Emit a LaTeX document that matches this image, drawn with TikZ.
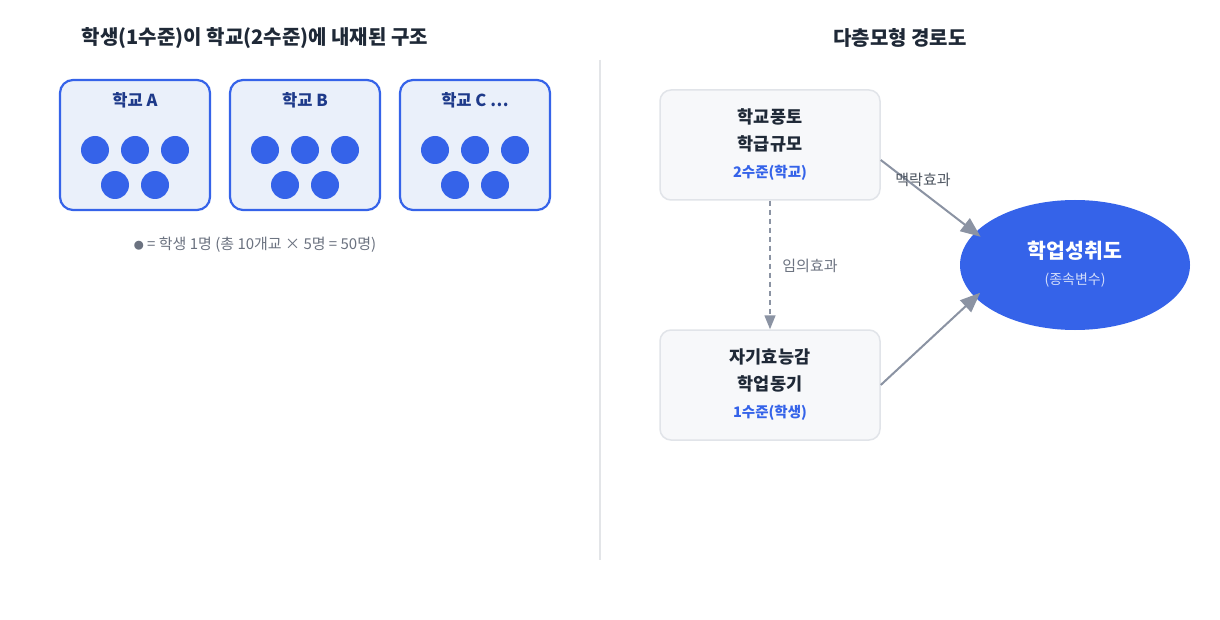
\documentclass[tikz,border=0pt]{standalone}
\usepackage{fontspec}
\setmainfont{Noto Sans CJK KR}
\usetikzlibrary{arrows.meta,shapes.geometric}
\definecolor{accent}{HTML}{3563E9}
\definecolor{schoolbg}{HTML}{EAF0FA}
\definecolor{navy}{HTML}{1E3A8A}
\definecolor{ink}{HTML}{1F2937}
\definecolor{muted}{HTML}{6B7280}
\definecolor{edge}{HTML}{8B93A3}
\definecolor{cardbg}{HTML}{F7F8FA}
\definecolor{cardline}{HTML}{E1E4E9}
\definecolor{rule}{HTML}{E3E5E8}
\tikzset{
  heading/.style={font=\fontsize{20}{24}\selectfont\bfseries,text=ink},
  school/.style={draw=accent,line width=2.2pt,fill=schoolbg,rounded corners=13pt,
    minimum width=150pt,minimum height=130pt},
  card/.style={draw=cardline,line width=1.5pt,fill=cardbg,rounded corners=11pt,
    minimum width=220pt,minimum height=110pt},
  cardtxt/.style={font=\fontsize{17.5}{21}\selectfont\bfseries,text=ink},
  leveltxt/.style={font=\fontsize{14.5}{17}\selectfont\bfseries,text=accent},
  flow/.style={draw=edge,line width=2pt,-{Triangle[length=20pt,width=16pt]}},
  pathlbl/.style={font=\fontsize{15}{18}\selectfont,text=muted}
}
\begin{document}
\begin{tikzpicture}[x=1pt,y=-1pt]
  \useasboundingbox[fill=white] (0,0) rectangle (1220,620);
  % left half: students inside schools
  \node[heading] (lefttitle) at (255,38) {학생(1수준)이 학교(2수준)에 내재된 구조};
  \foreach \sx/\lab [count=\i] in {60/학교 A,230/학교 B,400/학교 C …}{
    \node[school] (sch\i) at (\sx+75,145) {};
    \node[font=\fontsize{16.5}{19}\selectfont\bfseries,text=navy] (schname\i)
      at (\sx+75,100) {\lab};
    \foreach \dx in {-40,0,40}
      \fill[accent] (\sx+75+\dx,150) circle (14);
    \foreach \dx in {-20,20}
      \fill[accent] (\sx+75+\dx,185) circle (14);}
  \node[font=\fontsize{15}{18}\selectfont,text=muted] (legend) at (255,245)
    {{\fontsize{10}{12}\selectfont ●} = 학생 1명 (총 10개교 × 5명 = 50명)};
  % divider
  \draw[rule,line width=1.2pt] (600,60) -- (600,560);
  % right half: path diagram
  \node[heading] (righttitle) at (900,38) {다층모형 경로도};
  \node[card] (ctx) at (770,145) {};
  \node[cardtxt] (ctxa) at (770,117) {학교풍토};
  \node[cardtxt] (ctxb) at (770,144) {학급규모};
  \node[leveltxt] (ctxlvl) at (770,173) {2수준(학교)};
  \node[card] (ind) at (770,385) {};
  \node[cardtxt] (inda) at (770,357) {자기효능감};
  \node[cardtxt] (indb) at (770,384) {학업동기};
  \node[leveltxt] (indlvl) at (770,413) {1수준(학생)};
  \node[ellipse,fill=accent,minimum width=230pt,minimum height=130pt] (goal)
    at (1075,265) {};
  \node[font=\fontsize{20.5}{24}\selectfont\bfseries,text=white] (goalname)
    at (1075,251) {학업성취도};
  \node[font=\fontsize{14}{17}\selectfont,text=white!78!accent] (goalsub)
    at (1075,280) {(종속변수)};
  % arrows
  \draw[flow,shorten >=-7pt] ([yshift=-15pt]ctx.east) -- (goal.162);
  \draw[flow,shorten >=-7pt] (ind.east) -- (goal.198);
  \draw[flow,line width=1.5pt,dash pattern=on 5pt off 4pt,
    -{Triangle[length=14pt,width=11pt]}] (ctx.south) -- (ind.north);
  \node[pathlbl,text=ink!80] (ctxlbl) at (923,180) {맥락효과};
  \node[pathlbl] (rndlbl) at (810,266) {임의효과};
\end{tikzpicture}
\end{document}
